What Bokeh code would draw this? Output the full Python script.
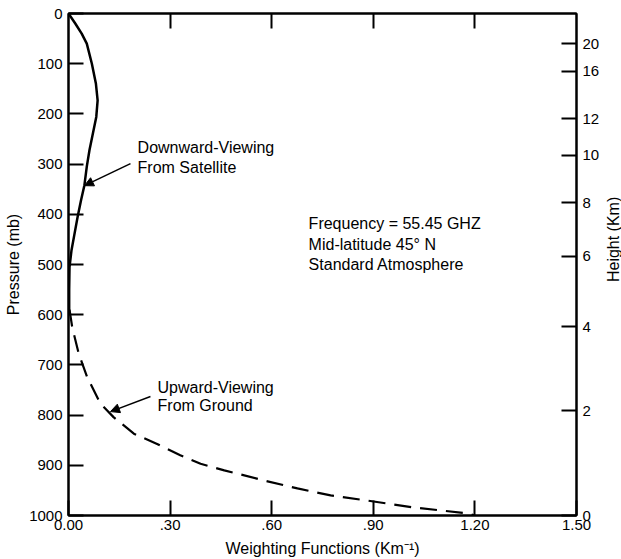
import math
from bokeh.plotting import figure
from bokeh.layouts import row
from bokeh.models import Range1d, LinearAxis, FixedTicker, Label, Arrow, NormalHead
from bokeh.embed import file_html
from bokeh.resources import INLINE

# ---- data ----
down_p = [0, 20, 40, 60, 100, 140, 173, 206, 239, 272, 305, 342, 372, 405, 438, 471, 505, 550, 600]
down_w = [0.0, 0.02, 0.039, 0.054, 0.069, 0.081, 0.086, 0.082, 0.072, 0.062, 0.054, 0.047, 0.037, 0.027, 0.018, 0.009, 0.003, 0.002, 0.002]

up_p = [590, 625, 677, 724, 777, 804, 837, 857, 880, 897, 910, 930, 946, 960, 970, 984, 996, 1000]
up_w = [0.003, 0.011, 0.03, 0.055, 0.094, 0.133, 0.193, 0.26, 0.33, 0.39, 0.46, 0.576, 0.676, 0.774, 0.88, 1.02, 1.18, 1.20]

x_ticks = [0.0, 0.3, 0.6, 0.9, 1.2, 1.5]
x_tick_labels = ["0.00", ".30", ".60", ".90", "1.20", "1.50"]
p_ticks = [0, 100, 200, 300, 400, 500, 600, 700, 800, 900, 1000]
height_km = ["0", "2", "4", "6", "8", "10", "12", "16", "20"]
height_p = [1000, 791, 624, 484, 377, 282, 210, 115, 60]

FONT = "Liberation Sans"
FS = "15px"
FA = "16px"

p = figure(width=605, height=559, output_backend="svg", toolbar_location=None,
           x_range=Range1d(0, 1.5), y_range=Range1d(1000, 0),
           min_border_left=68, min_border_right=29, min_border_top=13, min_border_bottom=44)
p.xgrid.visible = False
p.ygrid.visible = False
p.background_fill_color = "white"
p.border_fill_color = "white"
p.outline_line_color = "black"
p.outline_line_width = 2

def style(ax):
    ax.axis_line_width = 2
    ax.axis_line_color = "black"
    ax.major_tick_in = 15
    ax.major_tick_out = 0
    ax.major_tick_line_width = 2
    ax.minor_tick_line_color = None
    ax.major_label_text_font = FONT
    ax.major_label_text_font_size = FS
    ax.major_label_text_color = "black"
    ax.axis_label_text_font = FONT
    ax.axis_label_text_font_size = FA
    ax.axis_label_text_font_style = "normal"
    ax.axis_label_text_color = "black"

# bottom axis
xb = p.xaxis[0]
xb.ticker = FixedTicker(ticks=x_ticks)
xb.major_label_overrides = {t: s for t, s in zip(x_ticks, x_tick_labels)}
style(xb)
xb.major_label_standoff = 4
xb.axis_label = "Weighting Functions (Km⁻¹)"
xb.axis_label_standoff = 7

# left axis
yl = p.yaxis[0]
yl.ticker = FixedTicker(ticks=p_ticks)
style(yl)
yl.major_label_standoff = 6
yl.axis_label = "Pressure (mb)"
yl.axis_label_standoff = 4

# top axis (ticks only)
top_ticks = x_ticks[1:-1]
xt = LinearAxis(ticker=FixedTicker(ticks=top_ticks))
style(xt)
xt.major_label_overrides = {t: "" for t in top_ticks}
xt.major_label_standoff = 0
p.add_layout(xt, "above")

# right axis: height ticks
yr = LinearAxis(ticker=FixedTicker(ticks=height_p))
style(yr)
yr.major_label_overrides = {hp: hk for hp, hk in zip(height_p, height_km)}
yr.major_label_standoff = 6
p.add_layout(yr, "right")

# curves
p.line(down_w, down_p, line_color="black", line_width=2.5)
p.line(up_w, up_p, line_color="black", line_width=2.2, line_dash="17 9")

# annotations
def lab(x, y, t):
    p.add_layout(Label(x=x, y=y, text=t, text_font=FONT, text_font_size=FA,
                       text_color="black", text_baseline="middle", text_align="left"))

lab(0.204, 267, "Downward-Viewing")
lab(0.204, 307, "From Satellite")
lab(0.263, 745, "Upward-Viewing")
lab(0.263, 781, "From Ground")
lab(0.709, 418, "Frequency = 55.45 GHZ")
lab(0.709, 460, "Mid-latitude 45° N")
lab(0.709, 500, "Standard Atmosphere")

p.add_layout(Arrow(x_start=0.183, y_start=299, x_end=0.047, y_end=343, line_width=1.5,
                   end=NormalHead(size=9, fill_color="black", line_color="black")))
p.add_layout(Arrow(x_start=0.242, y_start=763, x_end=0.124, y_end=793, line_width=1.5,
                   end=NormalHead(size=9, fill_color="black", line_color="black")))

# narrow strip carrying the right-hand axis title (reads bottom-to-top)
p2 = figure(width=16, height=559, output_backend="svg", toolbar_location=None,
            x_range=Range1d(0, 1), y_range=Range1d(0, 1),
            x_axis_type=None, y_axis_type=None, min_border=0)
p2.grid.visible = False
p2.outline_line_color = None
p2.background_fill_color = "white"
p2.border_fill_color = "white"
p2.add_layout(Label(x=0.5, y=0.55, text="Height (Km)", angle=math.pi / 2,
                    text_font=FONT, text_font_size=FA, text_color="black",
                    text_align="center", text_baseline="middle"))

layout = row(p, p2, spacing=0)
open("out.html", "w").write(file_html(layout, INLINE))
